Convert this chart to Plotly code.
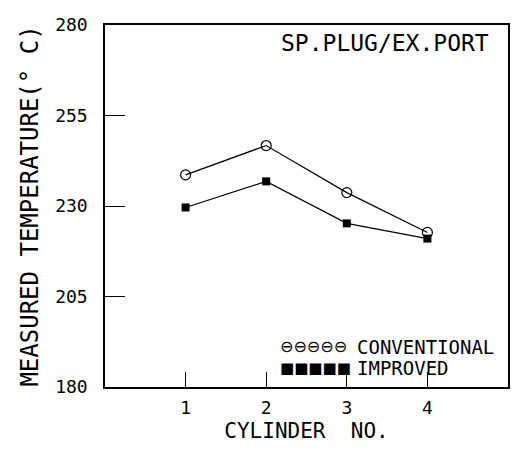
import plotly.graph_objects as go

cylinders = [1, 2, 3, 4]
conventional = [238.6, 246.7, 233.7, 222.7]
improved = [229.6, 236.8, 225.2, 221.0]
y_ticks = [180, 205, 230, 255, 280]
x_ticks = [1, 2, 3, 4]
series_names = ["CONVENTIONAL", "IMPROVED"]

FONT = "DejaVu Sans Mono"

fig = go.Figure()
fig.add_trace(go.Scatter(
    x=cylinders, y=conventional, name=series_names[0], mode="lines+markers",
    line=dict(color="black", width=1.2),
    marker=dict(symbol="circle-open", size=10, color="black", line=dict(width=1.2)),
    showlegend=False,
))
fig.add_trace(go.Scatter(
    x=cylinders, y=improved, name=series_names[1], mode="lines+markers",
    line=dict(color="black", width=1.2),
    marker=dict(symbol="square", size=8, color="black"),
    showlegend=False,
))

# legend drawn as text (plotter-style rows of symbols)
legend_syms = ["⊖⊖⊖⊖⊖", "■■■■■"]
legend_sym_sizes = [16, 15]
legend_y = [0.111, 0.053]
annotations = [dict(text="SP.PLUG/EX.PORT", xref="paper", yref="paper",
                    x=0.957, y=0.95, xanchor="right", yanchor="middle",
                    showarrow=False, font=dict(size=23))]
for sym, ssz, name, yy in zip(legend_syms, legend_sym_sizes, series_names, legend_y):
    annotations.append(dict(text=sym, xref="paper", yref="paper", x=0.43, y=yy,
                            xanchor="left", yanchor="middle", showarrow=False,
                            font=dict(family="DejaVu Sans", size=ssz)))
    annotations.append(dict(text=name, xref="paper", yref="paper", x=0.62, y=yy,
                            xanchor="left", yanchor="middle", showarrow=False,
                            font=dict(size=19)))

fig.update_layout(
    width=522, height=451,
    margin=dict(l=105, r=12, t=25, b=64),
    paper_bgcolor="white", plot_bgcolor="white",
    font=dict(family=FONT, color="black", size=18),
    showlegend=False,
    xaxis=dict(range=[0, 5], tickvals=x_ticks, ticks="inside", ticklen=15,
               tickcolor="black", tickwidth=1.2, showgrid=False, zeroline=False,
               showline=True, linecolor="black", linewidth=1.5, mirror=True,
               ticklabelstandoff=4,
               title=dict(text="CYLINDER  NO.", font=dict(size=21), standoff=6),
               tickfont=dict(size=18)),
    yaxis=dict(range=[180, 280], tickvals=y_ticks, ticks="inside", ticklen=20,
               tickcolor="black", tickwidth=1.2, showgrid=False, zeroline=False,
               showline=True, linecolor="black", linewidth=1.5, mirror=True,
               ticklabelstandoff=12,
               title=dict(text="MEASURED TEMPERATURE(° C)", font=dict(size=24), standoff=10),
               tickfont=dict(size=18)),
    annotations=annotations,
)

fig.write_html("out.html")
